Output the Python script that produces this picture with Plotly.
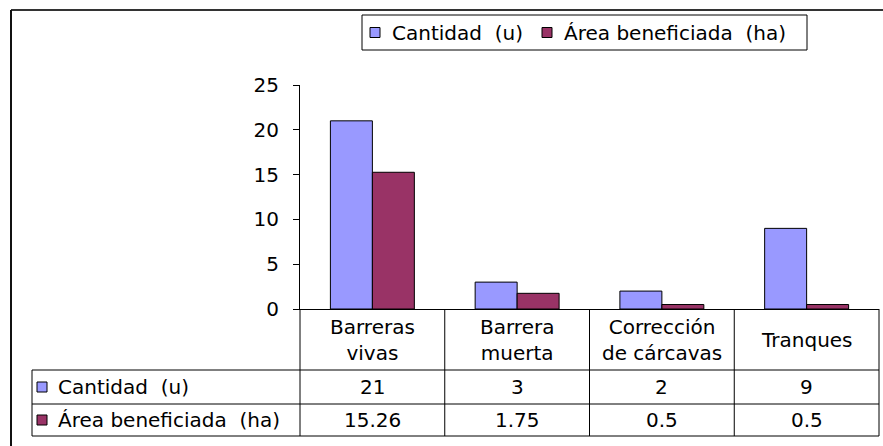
import plotly.graph_objects as go

# ---- data ----
categories = ["Barreras vivas", "Barrera muerta", "Corrección de cárcavas", "Tranques"]
category_labels = ["Barreras<br>vivas", "Barrera<br>muerta", "Corrección<br>de cárcavas", "Tranques"]
series_names = ["Cantidad\u00a0\u00a0(u)", "Área beneficiada\u00a0\u00a0(ha)"]
cantidad = [21, 3, 2, 9]
area = [15.26, 1.75, 0.5, 0.5]
series_values = [cantidad, area]
series_colors = ["#9999FF", "#993366"]
y_ticks = [0, 5, 10, 15, 20, 25]

# ---- layout geometry (pixels) ----
W, H = 883, 446
ML, MR, MT, MB = 300, 4, 85, 137
PW, PH = W - ML - MR, H - MT - MB
FONT = "DejaVu Sans"
FS = 20


def px(x):
    return (x - ML) / PW


def py(y):
    return (H - MB - y) / PH


fig = go.Figure()
for name, vals, col in zip(series_names, series_values, series_colors):
    fig.add_trace(go.Bar(
        x=categories, y=vals, name=name,
        marker=dict(color=col, line=dict(color="black", width=1)),
        showlegend=False,
    ))

shapes = []
annotations = []
n = len(categories)

# table geometry
row_tops = [py(370), py(404), py(436)]
table_left = px(32)


def line(x0, y0, x1, y1, width=1, color="black", xref="x domain", yref="y domain"):
    shapes.append(dict(type="line", xref=xref, yref=yref, x0=x0, y0=y0, x1=x1, y1=y1,
                       line=dict(color=color, width=width)))


# horizontal table lines
for yv in row_tops:
    line(table_left, yv, 1, yv)
# vertical column lines
for k in range(n + 1):
    line(k / n, 0, k / n, row_tops[-1])
line(table_left, row_tops[0], table_left, row_tops[-1])

# header labels
for cat, lab in zip(categories, category_labels):
    annotations.append(dict(x=cat, xref="x", y=(0 + row_tops[0]) / 2, yref="y domain",
                            text=lab, showarrow=False, xanchor="center", yanchor="middle",
                            font=dict(family=FONT, size=FS, color="black")))

# value rows
for r, (name, vals, col) in enumerate(zip(series_names, series_values, series_colors)):
    ymid = (row_tops[r] + row_tops[r + 1]) / 2
    for cat, v in zip(categories, vals):
        annotations.append(dict(x=cat, xref="x", y=ymid, yref="y domain",
                                text=f"{v:g}", showarrow=False, xanchor="center", yanchor="middle",
                                font=dict(family=FONT, size=FS, color="black")))
    cy_pix = H - MB - ymid * PH
    shapes.append(dict(type="rect", xref="x domain", yref="y domain",
                       x0=px(37), x1=px(47), y0=py(cy_pix + 5), y1=py(cy_pix - 5),
                       fillcolor=col, line=dict(color="black", width=1)))
    annotations.append(dict(x=px(56), xref="x domain", y=ymid, yref="y domain",
                            text=name, showarrow=False, xanchor="left", yanchor="middle",
                            font=dict(family=FONT, size=FS, color="black")))

# legend box
shapes.append(dict(type="rect", xref="paper", yref="paper",
                   x0=px(362), x1=px(807), y0=py(50), y1=py(15),
                   fillcolor="white", line=dict(color="black", width=1)))
leg_sq = [370, 542]
leg_tx = [390, 562]
for name, col, sx, tx in zip(series_names, series_colors, leg_sq, leg_tx):
    shapes.append(dict(type="rect", xref="paper", yref="paper",
                       x0=px(sx), x1=px(sx + 10), y0=py(37.5), y1=py(27.5),
                       fillcolor=col, line=dict(color="black", width=1)))
    annotations.append(dict(x=px(tx), xref="paper", y=py(32.5), yref="paper",
                            text=name, showarrow=False, xanchor="left", yanchor="middle",
                            font=dict(family=FONT, size=FS, color="black")))

# outer frame (top and left)
line(px(11), py(10), px(W + 5), py(10), width=2, color="#333333", xref="paper", yref="paper")
line(px(11), py(10), px(11), py(H + 5), width=2, color="#111111", xref="paper", yref="paper")

fig.update_layout(
    width=W, height=H,
    margin=dict(l=ML, r=MR, t=MT, b=MB, pad=0),
    paper_bgcolor="white", plot_bgcolor="white",
    barmode="group", bargap=0.42, bargroupgap=0,
    shapes=shapes, annotations=annotations,
    font=dict(family=FONT, size=FS, color="black"),
    xaxis=dict(showticklabels=False, ticks="", showgrid=False, zeroline=False,
               showline=True, linecolor="black", linewidth=1, range=[-0.5, n - 0.5]),
    yaxis=dict(range=[0, 25], tickvals=y_ticks, showgrid=False, zeroline=False,
               showline=True, linecolor="black", linewidth=1,
               ticks="outside", ticklen=6, tickcolor="black", tickwidth=1,
               ticklabelstandoff=10,
               tickfont=dict(family=FONT, size=FS, color="black")),
)

fig.write_html(
    "out.html",
    config={"displayModeBar": False},
    post_script="document.body.style.margin='0';document.body.style.overflow='hidden';",
)
